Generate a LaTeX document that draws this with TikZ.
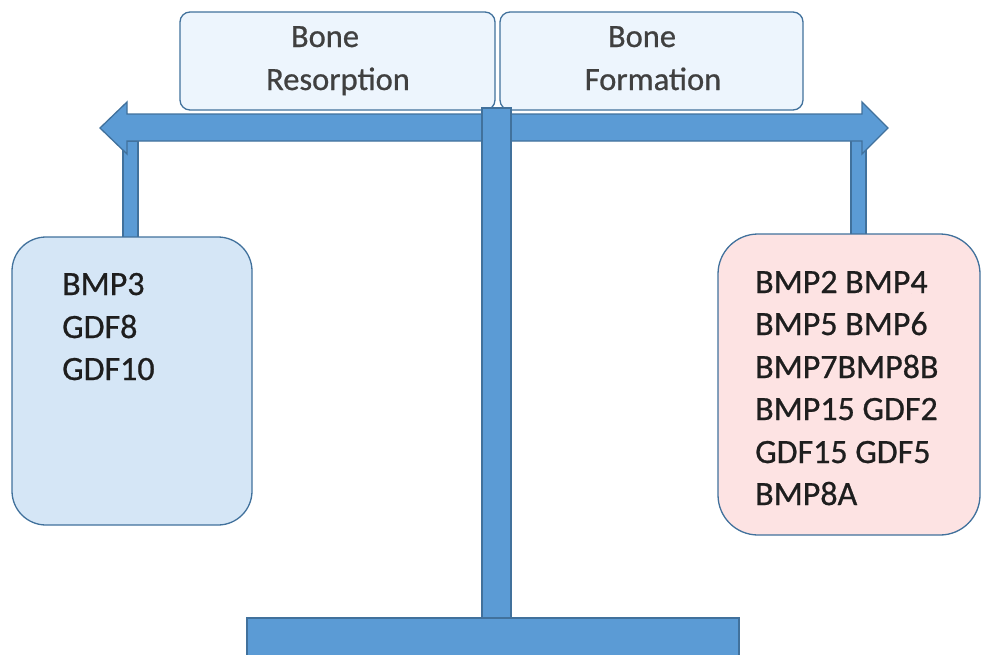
\documentclass[tikz,border=0pt]{standalone}
\usepackage{fontspec}
\setmainfont{Carlito}
\newfontfamily\heavyfont{Carlito}[FakeBold=0.7]
\definecolor{beamfill}{HTML}{5B9BD5}
\definecolor{beamline}{HTML}{41719C}
\definecolor{labelfill}{HTML}{EDF5FD}
\definecolor{leftfill}{HTML}{D5E6F6}
\definecolor{rightfill}{HTML}{FDE3E3}
\definecolor{txt}{HTML}{1E1E1E}
\tikzset{
  beam/.style={fill=beamfill, draw=beamline, line width=1.3pt},
  labelbox/.style={fill=labelfill, draw=beamline, line width=1.3pt, rounded corners=10pt},
  groupbox/.style={draw=beamline, line width=1.3pt},
  tline/.style={inner sep=0pt, anchor=base west, text=txt, font=\heavyfont\fontsize{34}{40}\selectfont},
  lline/.style={inner sep=0pt, anchor=base, text=txt!85, font=\heavyfont\fontsize{32.5}{40}\selectfont},
}
\begin{document}
\begin{tikzpicture}[x=1pt,y=-1pt]
\useasboundingbox (0,0) rectangle (981,654);
\clip (0,0) rectangle (981,654);
% label boxes
\draw[labelbox] (180,12) rectangle (495,110);
\node[lline] (boneL) at (325,47) {Bone};
\node[lline] (resorp) at (338,90) {Resorption};
\draw[labelbox] (500,12) rectangle (803,110);
\node[lline] (boneR) at (642,47) {Bone};
\node[lline] (form) at (653,90) {Formation};
% hanging bars
\draw[beam] (123,141) rectangle (138,238);
\draw[beam] (851,138) rectangle (866,235);
% beam with double arrow
\draw[beam] (100,128) -- (127,102) -- (127,114) -- (862,114) -- (862,102) -- (888,128)
  -- (862,154) -- (862,141) -- (127,141) -- (127,154) -- cycle;
% post and base
\draw[beam] (482,108) rectangle (511,618);
\draw[beam] (247,618) rectangle (739,664);
% group boxes
\draw[groupbox, fill=leftfill, rounded corners=34pt] (12,237) rectangle (252,525);
\draw[groupbox, fill=rightfill, rounded corners=40pt] (718,234) rectangle (980,535);
% texts
\node[tline] (l1) at (62,295) {BMP3};
\node[tline] (l2) at (62,338) {GDF8};
\node[tline] (l3) at (62,380) {GDF10};
\node[tline] (r1) at (755,293) {BMP2 BMP4};
\node[tline] (r2) at (755,335) {BMP5 BMP6};
\node[tline] (r3) at (755,378) {BMP7BMP8B};
\node[tline] (r4) at (755,420) {BMP15 GDF2};
\node[tline] (r5) at (755,463) {GDF15 GDF5};
\node[tline] (r6) at (755,505) {BMP8A};
\end{tikzpicture}
\end{document}
